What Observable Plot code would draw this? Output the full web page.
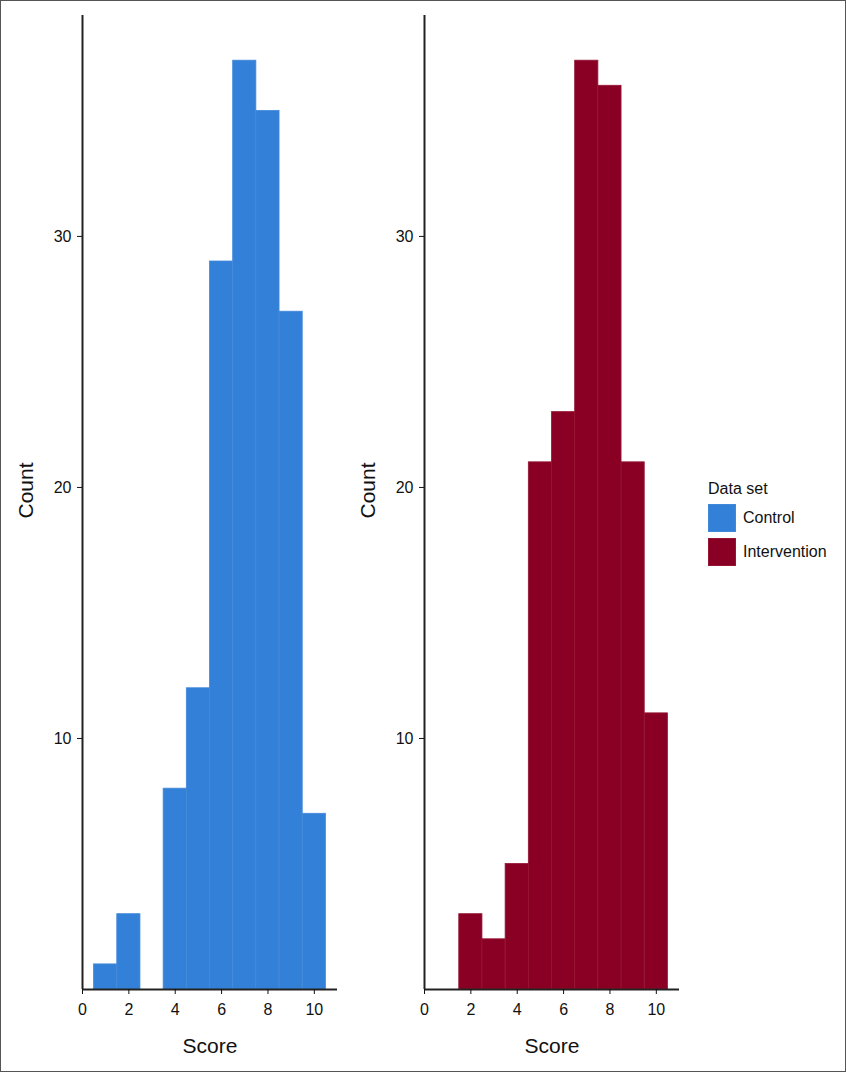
<!DOCTYPE html>
<html>
<head>
<meta charset="utf-8">
<script src="https://cdn.jsdelivr.net/npm/d3@7"></script>
<script src="https://cdn.jsdelivr.net/npm/@observablehq/plot@0.6"></script>
<style>
  html, body { margin: 0; padding: 0; background: #fff; }
  #frame { position: relative; width: 844px; height: 1070px; border: 1px solid #555; overflow: hidden; font-family: "Liberation Sans", Arial, sans-serif; }
  .panel { position: absolute; top: -1px; }
  #legend { position: absolute; left: 707px; top: 479px; font-size: 16px; color: #111; }
  .sw-row { display: flex; align-items: center; margin-top: 6px; height: 28px; }
  .sw { width: 28px; height: 28px; margin-right: 7px; box-sizing: border-box; }
</style>
</head>
<body>
<div id="frame">
  <div id="left" class="panel" style="left:-1px"></div>
  <div id="right" class="panel" style="left:341px"></div>
  <div id="legend"></div>
</div>
<script>
const bins = [1, 2, 3, 4, 5, 6, 7, 8, 9, 10];
const controlCounts = [1, 3, 0, 8, 12, 29, 37, 35, 27, 7];
const interventionCounts = [0, 3, 2, 5, 21, 23, 37, 36, 21, 11];
const seriesNames = ["Control", "Intervention"];
const seriesColors = ["#3380d8", "#8a0024"];
const seriesStrokes = ["#4389da", "#951533"];
const xTicks = [0, 2, 4, 6, 8, 10];
const yTicks = [10, 20, 30];

function panel(counts, fill, stroke) {
  const data = bins.map((b, i) => ({bin: b, count: counts[i]}));
  return Plot.plot({
    width: 345,
    height: 1072,
    marginLeft: 82,
    marginRight: 8,
    marginTop: 15,
    marginBottom: 83,
    x: {domain: [0, 11]},
    y: {domain: [0, 38.8]},
    style: {fontFamily: '"Liberation Sans", Arial, sans-serif', fontSize: "16px", color: "#111", background: "transparent"},
    marks: [
      Plot.rectY(data, {x1: d => d.bin - 0.5, x2: d => d.bin + 0.5, y1: 0, y2: "count", fill, stroke, strokeWidth: 0.8}),
      Plot.ruleX([0], {stroke: "#222", strokeWidth: 2}),
      Plot.ruleY([0], {stroke: "#222", strokeWidth: 2}),
      Plot.axisX({ticks: xTicks, tickSize: 5, tickPadding: 9, fontSize: 16, label: "Score", labelAnchor: "center", labelOffset: 63, labelArrow: false}),
      Plot.axisY({ticks: yTicks, tickSize: 5, tickPadding: 6, fontSize: 16, label: "Count", labelAnchor: "center", labelOffset: 64, labelArrow: false})
    ]
  });
}

document.getElementById("left").appendChild(panel(controlCounts, seriesColors[0], seriesStrokes[0]));
document.getElementById("right").appendChild(panel(interventionCounts, seriesColors[1], seriesStrokes[1]));

document.querySelectorAll("svg g[aria-label='x-axis label'], svg g[aria-label='y-axis label']").forEach(g => {
  g.setAttribute("font-size", "21");
});
document.querySelectorAll("svg g[aria-label='y-axis label'] text").forEach(t => {
  const tr = t.getAttribute("transform") || "";
  t.setAttribute("transform", "translate(0,-12) " + tr);
});

const legend = document.getElementById("legend");
const title = document.createElement("div");
title.textContent = "Data set";
legend.appendChild(title);
seriesNames.forEach((n, i) => {
  const row = document.createElement("div");
  row.className = "sw-row";
  const sw = document.createElement("div");
  sw.className = "sw";
  sw.style.background = seriesColors[i];
  sw.style.border = "1px solid " + seriesStrokes[i];
  const lab = document.createElement("span");
  lab.textContent = n;
  row.appendChild(sw);
  row.appendChild(lab);
  legend.appendChild(row);
});
</script>
</body>
</html>
